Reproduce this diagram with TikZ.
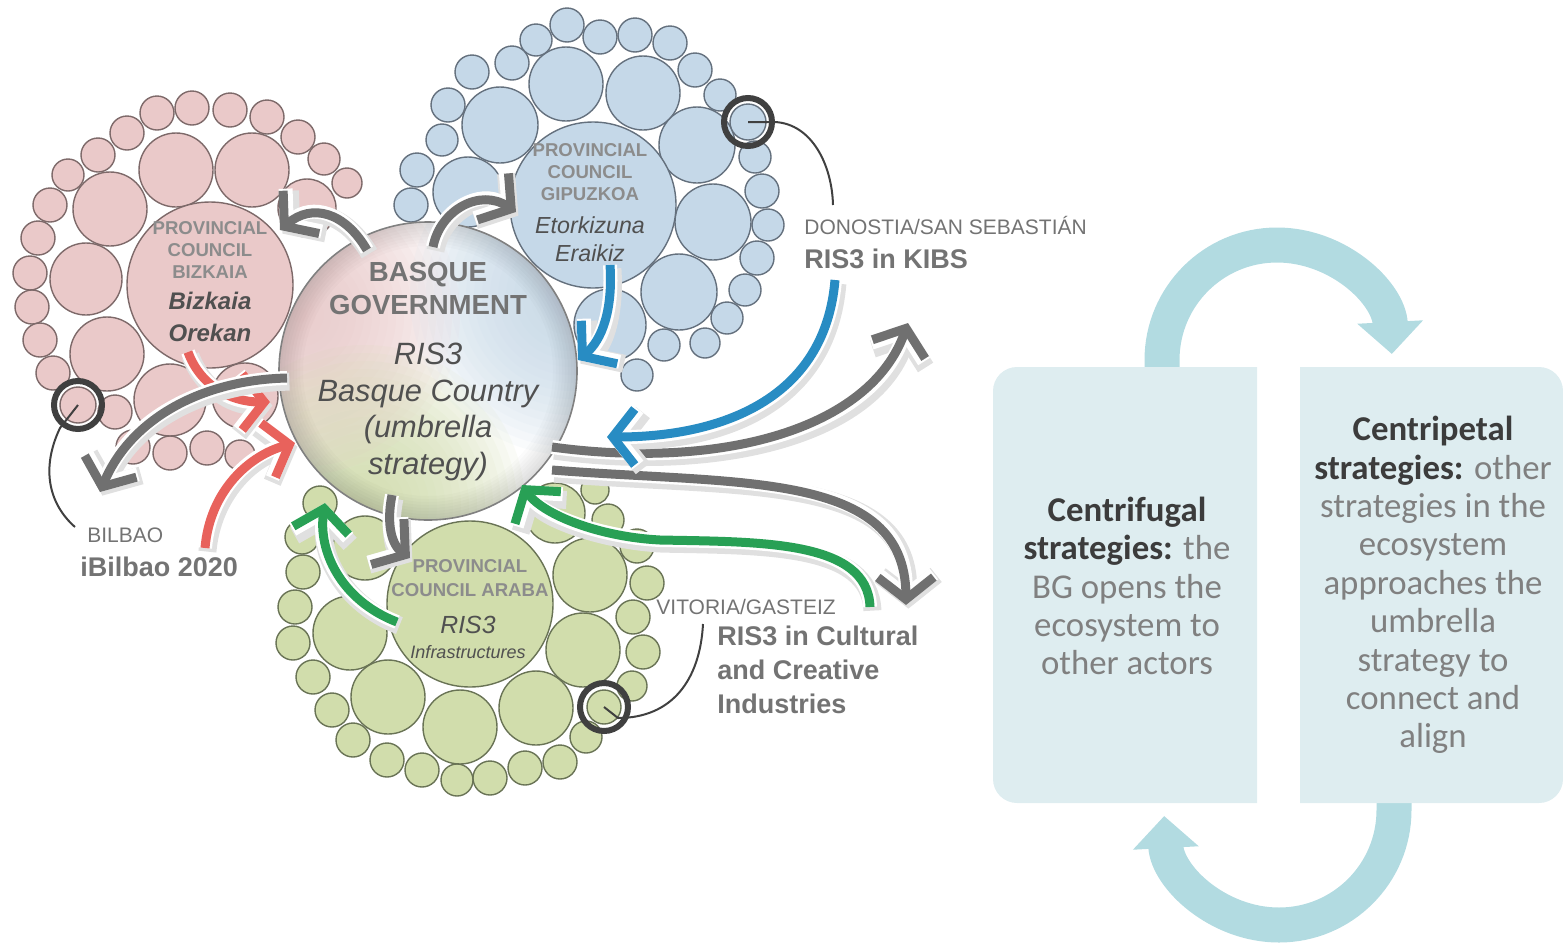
\documentclass[tikz,border=0pt]{standalone}
\usepackage{fontspec}
\setmainfont{Liberation Sans}
\newfontfamily\calib{Carlito}
\usetikzlibrary{arrows.meta}

\definecolor{pinkfill}{RGB}{234,201,201}
\definecolor{pinkline}{RGB}{125,105,105}
\definecolor{bluefill}{RGB}{197,216,232}
\definecolor{blueline}{RGB}{100,112,125}
\definecolor{greenfill}{RGB}{209,221,172}
\definecolor{greenline}{RGB}{105,115,85}
\definecolor{arrgray}{RGB}{112,112,112}
\definecolor{arrblue}{RGB}{40,140,195}
\definecolor{arrred}{RGB}{232,98,92}
\definecolor{arrgreen}{RGB}{40,160,85}
\definecolor{txtgray}{RGB}{115,115,115}
\definecolor{txtlight}{RGB}{140,140,140}
\definecolor{txtdark}{RGB}{80,80,80}
\definecolor{boxfill}{RGB}{222,237,240}
\definecolor{cycfill}{RGB}{178,219,225}
\definecolor{boxbold}{RGB}{60,60,60}
\definecolor{boxtext}{RGB}{128,128,128}

\tikzstyle{pinkc}=[draw=pinkline,fill=pinkfill,line width=0.7pt]
\tikzstyle{bluec}=[draw=blueline,fill=bluefill,line width=0.7pt]
\tikzstyle{greenc}=[draw=greenline,fill=greenfill,line width=0.7pt]
\tikzstyle{council}=[circle,inner sep=0pt,minimum size=83pt,line width=0.7pt]
\tikzstyle{ring}=[circle,draw=black!75,line width=3pt,minimum size=24pt,inner sep=0pt]
\tikzstyle{conn}=[draw=black!75,line width=1pt]
\tikzstyle{arr}=[line width=4.5pt,-{Straight Barb[length=11pt,width=28pt]},
  preaction={draw=black!12,line width=9pt,transform canvas={shift={(1.2pt,-1.8pt)}}},
  preaction={draw=white,line width=7pt}]
\tikzstyle{cyc}=[draw=cycfill,line width=17.5pt,-{Triangle[width=32pt,length=16pt]}]
\tikzstyle{prov}=[inner sep=0pt,align=center,text=txtlight,font=\fontsize{9.3}{11}\selectfont\bfseries]
\tikzstyle{lbl}=[inner sep=0pt,anchor=west,align=left,text=txtgray,font=\fontsize{10.5}{12}\selectfont]
\tikzstyle{lblb}=[inner sep=0pt,anchor=west,align=left,text=txtgray,font=\fontsize{13.5}{17}\selectfont\bfseries]
\tikzstyle{boxtxt}=[inner sep=0pt,align=center,text=boxtext,font=\calib\fontsize{17.4}{19.2}\selectfont]

\begin{document}
\begin{tikzpicture}[x=0.5pt,y=-0.5pt]
\useasboundingbox (0,0) rectangle (1563,943);

% Bizkaia cluster
\foreach \x/\y/\r in {176/170/37,252/170/37,110/209/37,86/279/36,107/354/37,170/400/36,245/396/33,307/208/29,
  157/113/17,192/108/17,230/110/17,267/117/17,298/137/17,324/159/16,347/183/15,127/133/17,98/155/17,68/175/16,
  50/205/17,38/238/17,30/273/17,32/307/17,40/340/17,53/373/17,78/405/18,115/412/17,133/447/17,170/453/17,
  207/448/17,240/455/15}
  \draw[pinkc] (\x,\y) circle (\r);
\node[council,pinkc] (bizkaia) at (210,285) {};

% Gipuzkoa cluster
\foreach \x/\y/\r in {566/84/37,500/125/38,643/93/37,697/145/38,713/222/38,679/292/38,610/325/36,468/192/35,
  472/72/17,512/63/17,536/40/16,567/25/17,600/37/17,635/35/17,670/43/17,695/70/17,720/95/16,748/122/18,
  755/157/16,762/191/17,768/225/16,757/258/17,745/290/16,727/318/16,705/343/15,664/345/16,637/375/16,
  448/105/17,442/140/16,417/170/17,411/205/17}
  \draw[bluec] (\x,\y) circle (\r);
\node[council,bluec] (gipuzkoa) at (593,205) {};

% Araba cluster
\foreach \x/\y/\r in {350/633/37,388/697/37,460/727/37,536/708/37,583/650/37,590/575/37,365/548/32,555/513/30,
  320/503/17,302/537/17,303/572/17,295/607/17,293/643/17,313/677/17,332/710/17,353/740/17,387/760/17,
  422/770/17,457/780/16,490/778/17,525/768/17,560/762/17,586/737/16,604/707/17,632/686/15,643/652/17,
  633/617/17,647/583/17,637/546/17,608/520/16,595/490/14}
  \draw[greenc] (\x,\y) circle (\r);
\node[council,greenc] (araba) at (470,604) {};

\node[ring] (ringB) at (78,405) {};
\node[ring] (ringG) at (748,122) {};
\node[ring] (ringA) at (604,707) {};

% Basque Government: soft tints and a darker rim
\begin{scope}
  \clip (428,371) circle (149);
  \fill[white] (428,371) circle (149);
  \foreach \i in {1,...,20} {
    \fill[pinkfill,opacity=0.09] (300,315) circle (8*\i);
    \fill[bluefill,opacity=0.09] (570,295) circle (8*\i);
    \fill[greenfill,opacity=0.09] (365,505) circle (8*\i);
  }
  \foreach \i in {1,...,8}
    \fill[black,opacity=0.015,even odd rule] (428,371) circle (149) circle (149-3*\i);
\end{scope}
\node[circle,draw=black!50,line width=0.8pt,minimum size=149pt,inner sep=0pt] (bg) at (428,371) {};

% texts in the circles
\node[prov] (bizkprov) at (210,250) {PROVINCIAL\\COUNCIL\\BIZKAIA};
\node[inner sep=0pt,align=center,text=txtdark,font=\fontsize{12}{16}\selectfont\bfseries\itshape] (bizkname) at (210,317) {Bizkaia\\Orekan};
\node[prov] (gipprov) at (590,172) {PROVINCIAL\\COUNCIL\\GIPUZKOA};
\node[inner sep=0pt,align=center,text=txtdark,font=\fontsize{11.6}{14}\selectfont\itshape] (gipname) at (590,239) {Etorkizuna\\Eraikiz};
\node[inner sep=0pt,align=center,text=txtgray,font=\fontsize{13.8}{16.5}\selectfont\bfseries] (bgtitle) at (428,288) {BASQUE\\GOVERNMENT};
\node[inner sep=0pt,align=center,text=txtdark,font=\fontsize{15.4}{18.25}\selectfont\itshape] (bgname) at (428,412) {RIS3\\Basque Country\\(umbrella\\strategy)};
\node[prov,font=\fontsize{9.3}{12}\selectfont\bfseries] (araprov) at (470,578) {PROVINCIAL\\COUNCIL ARABA};
\node[inner sep=0pt,text=txtdark,font=\fontsize{12.4}{14}\selectfont\itshape] (araname) at (468,625) {RIS3};
\node[inner sep=0pt,text=txtdark,font=\fontsize{9}{11}\selectfont\itshape] (arainf) at (468,652) {Infrastructures};

% arrow ends
\coordinate (bgA) at (367,250);   \coordinate (bizkA) at (280,230);
\coordinate (bgB) at (433,247);   \coordinate (gipA) at (516,212);
\coordinate (gipB) at (610,265);  \coordinate (bgC) at (578,360);
\coordinate (bizkB) at (188,352); \coordinate (bgD) at (270,402);
\coordinate (bilA) at (205,548);  \coordinate (bgE) at (295,443);
\coordinate (bgF) at (287,378);   \coordinate (bilB) at (100,492);
\coordinate (bgG) at (392,495);   \coordinate (araA) at (410,558);
\coordinate (araB) at (397,622);  \coordinate (bgH) at (325,503);
\coordinate (vitA) at (870,607);  \coordinate (bgI) at (522,485);
\coordinate (kibsA) at (835,280); \coordinate (bgJ) at (607,437);
\coordinate (bgK) at (552,447);   \coordinate (kibsB) at (908,323);
\coordinate (bgL) at (552,470);   \coordinate (vitB) at (906,605);

\draw[arr,draw=arrgray] (bgA) .. controls (345,212) and (312,203) .. (bizkA);
\draw[arr,draw=arrgray] (bgB) .. controls (440,210) and (480,188) .. (gipA);
\draw[arr,draw=arrblue] (gipB) .. controls (613,310) and (602,340) .. (bgC);
\draw[arr,draw=arrred] (bizkB) .. controls (200,385) and (230,402) .. (bgD);
\draw[arr,draw=arrred] (bilA) .. controls (210,490) and (250,455) .. (bgE);
\draw[arr,draw=arrgray] (bgF) .. controls (200,380) and (130,420) .. (bilB);
\draw[arr,draw=arrgray] (bgG) .. controls (386,525) and (392,545) .. (araA);
\draw[arr,draw=arrgreen] (araB) .. controls (340,600) and (318,550) .. (bgH);
\draw[arr,draw=arrgray] (bgL) .. controls (740,485) and (905,470) .. (vitB);
\draw[arr,draw=arrgray] (bgK) .. controls (720,470) and (870,430) .. (kibsB);
\draw[arr,draw=arrgreen] (vitA) .. controls (868,540) and (760,542) .. (660,540) .. controls (600,537) and (543,515) .. (bgI);
\draw[arr,draw=arrblue] (kibsA) .. controls (825,400) and (720,437) .. (bgJ);

% places
\node[lbl] (donostia) at (804,225) {DONOSTIA/SAN SEBASTIÁN};
\node[lblb] (kibs) at (804,259) {RIS3 in KIBS};
\node[lbl] (bilbao) at (87,535) {BILBAO};
\node[lblb] (ibilbao) at (80,567) {iBilbao 2020};
\node[lbl] (vitoria) at (656,607) {VITORIA/GASTEIZ};
\node[lblb] (cci) at (717,670) {RIS3 in Cultural\\and Creative\\Industries};

\coordinate (donend) at (833,205);
\coordinate (bilend) at (75,527);
\coordinate (vitend) at (703,624);
\draw[conn] (ringG.center) -- (775,122) .. controls (812,124) and (832,165) .. (donend);
\draw[conn] (ringB.center) -- (60,428) .. controls (40,470) and (50,505) .. (bilend);
\draw[conn] (ringA.center) -- (618,718) .. controls (672,718) and (700,680) .. (vitend);

% centrifugal / centripetal
\draw[cyc] (1162,385) -- (1162,360) arc[start angle=180,end angle=357,radius=115];
\draw[cyc] (1394,790) -- (1394,810) arc[start angle=0,end angle=177,radius=115];
\fill[boxfill] (1257,367) -- (1120,367) [rounded corners=12pt] -- (993,367) -- (993,803) -- (1120,803) [sharp corners] -- (1257,803) -- cycle;
\fill[boxfill] (1300,367) -- (1440,367) [rounded corners=12pt] -- (1563,367) -- (1563,803) -- (1440,803) [sharp corners] -- (1300,803) -- cycle;
\node[boxtxt] (cfugal) at (1127,586) {{\color{boxbold}\bfseries Centrifugal}\\{\color{boxbold}\bfseries strategies:} the\\BG opens the\\ecosystem to\\other actors};
\node[boxtxt] (cpetal) at (1433,585) {{\color{boxbold}\bfseries Centripetal}\\{\color{boxbold}\bfseries strategies:} other\\strategies in the\\ecosystem\\approaches the\\umbrella\\strategy to\\connect and\\align};
\end{tikzpicture}
\end{document}
